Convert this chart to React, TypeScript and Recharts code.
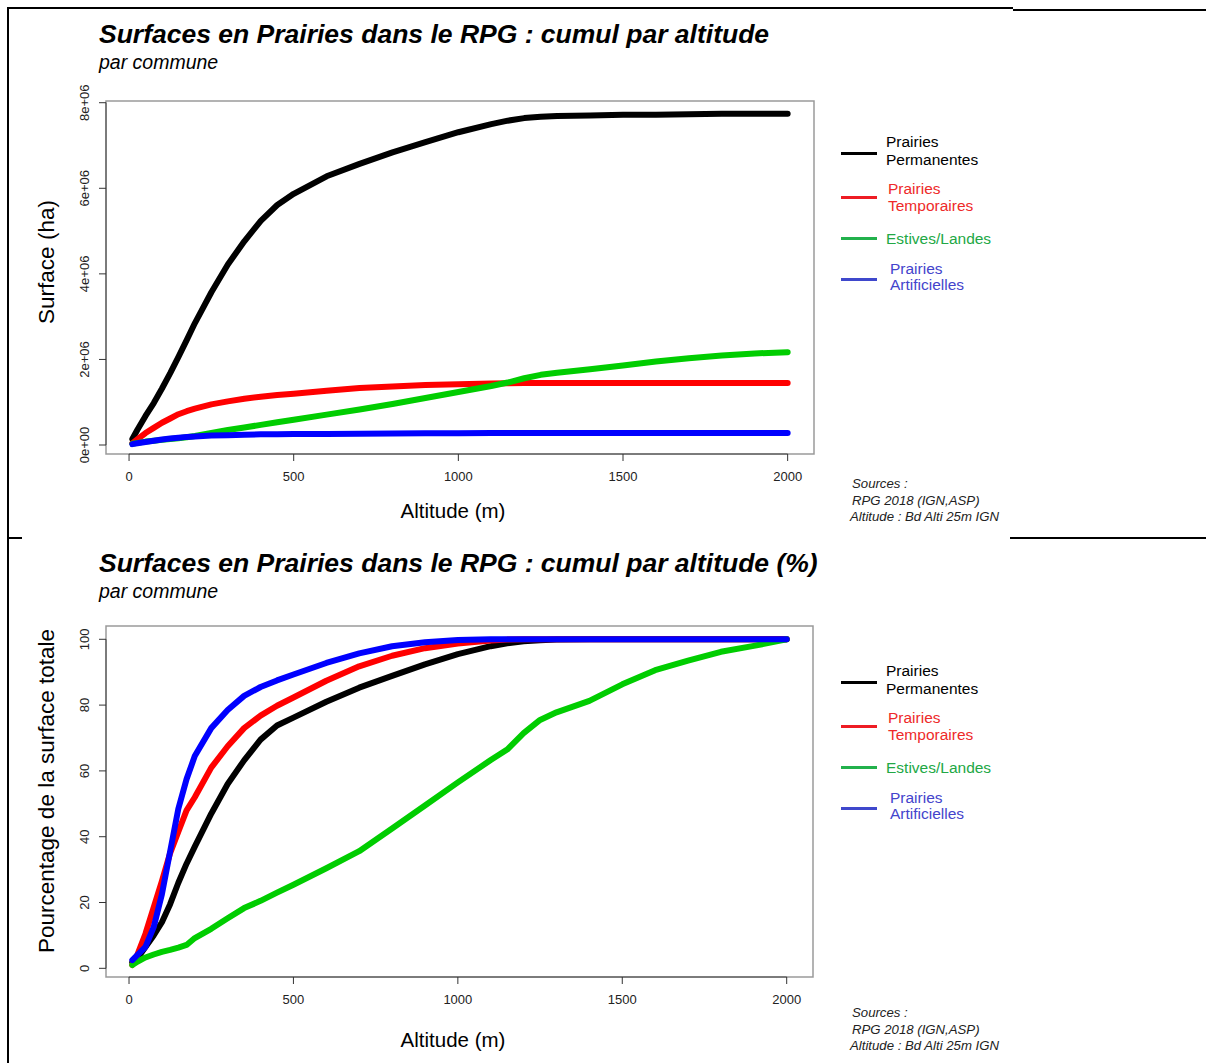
import React from "react";
import { LineChart, Line, XAxis, YAxis, ReferenceArea, ReferenceLine } from "recharts";

const FONT = '"Liberation Sans", Arial, Helvetica, sans-serif';

// altitude (m) of each cumulative point
const ALTITUDES = [10, 25, 50, 75, 100, 125, 150, 175, 200, 250, 300, 350, 400, 450, 500, 600, 700, 800, 900, 1000, 1100, 1150, 1200, 1250, 1300, 1400, 1500, 1600, 1700, 1800, 1900, 2000];

// cumulative surface (ha)
const SURF_PERMANENTES = [140000, 350000, 680000, 980000, 1320000, 1680000, 2060000, 2450000, 2850000, 3570000, 4220000, 4760000, 5240000, 5610000, 5870000, 6280000, 6570000, 6840000, 7080000, 7310000, 7500000, 7580000, 7640000, 7670000, 7690000, 7700000, 7720000, 7720000, 7730000, 7740000, 7740000, 7740000];
const SURF_TEMPORAIRES = [40000, 130000, 280000, 400000, 520000, 620000, 720000, 790000, 850000, 950000, 1020000, 1080000, 1130000, 1170000, 1200000, 1270000, 1330000, 1370000, 1400000, 1420000, 1440000, 1445000, 1450000, 1450000, 1450000, 1450000, 1450000, 1450000, 1450000, 1450000, 1450000, 1450000];
const SURF_ESTIVES = [30000, 50000, 80000, 100000, 120000, 140000, 160000, 180000, 210000, 280000, 350000, 410000, 470000, 530000, 590000, 710000, 830000, 960000, 1100000, 1240000, 1380000, 1460000, 1560000, 1640000, 1690000, 1770000, 1860000, 1950000, 2030000, 2090000, 2140000, 2170000];
const SURF_ARTIFICIELLES = [20000, 40000, 70000, 100000, 130000, 150000, 170000, 190000, 200000, 220000, 230000, 240000, 250000, 252000, 255000, 260000, 265000, 270000, 273000, 276000, 280000, 280000, 280000, 280000, 280000, 280000, 280000, 280000, 280000, 280000, 280000, 280000];

// cumulative share of total surface (%)
const PCT_PERMANENTES = [1.8, 3, 6.5, 10, 14, 19.5, 26, 31.8, 37, 47, 56, 63.2, 69.5, 73.8, 76.2, 81, 85.3, 88.9, 92.4, 95.5, 97.9, 98.8, 99.4, 99.7, 99.9, 100, 100, 100, 100, 100, 100, 100];
const PCT_TEMPORAIRES = [1, 4, 10.5, 18.5, 26.5, 35, 41.5, 48, 52, 61, 67.5, 73, 76.8, 79.8, 82.3, 87.4, 91.8, 95, 97.3, 98.7, 99.6, 99.9, 100, 100, 100, 100, 100, 100, 100, 100, 100, 100];
const PCT_ESTIVES = [1, 2, 3.3, 4.2, 5, 5.6, 6.3, 7.1, 9.2, 12, 15.2, 18.3, 20.5, 23, 25.4, 30.4, 35.6, 42.5, 49.5, 56.5, 63.3, 66.5, 71.5, 75.5, 77.8, 81.3, 86.3, 90.6, 93.5, 96.2, 98, 100];
const PCT_ARTIFICIELLES = [2.5, 4, 6.5, 12.5, 22.5, 35.5, 48.5, 57.5, 64.5, 73, 78.5, 82.8, 85.5, 87.5, 89.3, 92.8, 95.7, 97.9, 99.1, 99.8, 100, 100, 100, 100, 100, 100, 100, 100, 100, 100, 100, 100];

const ALT_TICKS = [0, 500, 1000, 1500, 2000];
const SURF_TICKS = [0, 2000000, 4000000, 6000000, 8000000];
const SURF_TICK_LABELS = ["0e+00", "2e+06", "4e+06", "6e+06", "8e+06"];
const PCT_TICKS = [0, 20, 40, 60, 80, 100];
const PCT_TICK_LABELS = ["0", "20", "40", "60", "80", "100"];

const SERIES = [
  { key: "perm", label: ["Prairies", "Permanentes"], color: "#000000", legendLine: "#000000", legendText: "#000000" },
  { key: "temp", label: ["Prairies", "Temporaires"], color: "#ff0000", legendLine: "#ee1c24", legendText: "#ee2a2a" },
  { key: "estives", label: ["Estives/Landes"], color: "#00cd00", legendLine: "#22b14c", legendText: "#22a845" },
  { key: "artif", label: ["Prairies", "Artificielles"], color: "#0000ff", legendLine: "#3f48cc", legendText: "#4444cc" },
];

const surfaceData = ALTITUDES.map((alt, i) => ({
  alt,
  perm: SURF_PERMANENTES[i],
  temp: SURF_TEMPORAIRES[i],
  estives: SURF_ESTIVES[i],
  artif: SURF_ARTIFICIELLES[i],
}));

const pctData = ALTITUDES.map((alt, i) => ({
  alt,
  perm: PCT_PERMANENTES[i],
  temp: PCT_TEMPORAIRES[i],
  estives: PCT_ESTIVES[i],
  artif: PCT_ARTIFICIELLES[i],
}));

// legend rows, relative to the panel's top
const LEGEND_ROWS = [
  { lineY: 153.5, textX: 886, textY: [141.5, 159.5] },
  { lineY: 197.5, textX: 888, textY: [188.5, 206] },
  { lineY: 238.5, textX: 886, textY: [238.5] },
  { lineY: 279.5, textX: 890, textY: [269, 284.5] },
];

const X_DOMAIN = [-70, 2080];

function Txt({ x, y, size, children, color = "#000", style = {} }: any) {
  return (
    <div
      style={{
        position: "absolute",
        left: x,
        top: y - size * 0.5,
        fontSize: size,
        lineHeight: 1,
        fontFamily: FONT,
        color,
        whiteSpace: "nowrap",
        ...style,
      }}
    >
      {children}
    </div>
  );
}

function YTick(props: any) {
  const { x, y, payload, ticks, labels } = props;
  const idx = ticks.indexOf(payload.value);
  return (
    <text x={x} y={y} transform={`rotate(-90, ${x}, ${y})`} textAnchor="middle" fontSize={13} fill="#222" fontFamily={FONT}>
      {labels[idx]}
    </text>
  );
}

function Panel({ top, chartTop, plotBottom, title, yLabel, data, yDomain, yTicks, yTickLabels, plotRight }: any) {
  const chartH = 540;
  const xAxisH = 40;
  const yAxisW = 50;
  return (
    <>
      <Txt x={99} y={top + 34} size={26.5} style={{ fontWeight: "bold", fontStyle: "italic" }}>
        {title}
      </Txt>
      <Txt x={99} y={top + 63} size={19.5} style={{ fontStyle: "italic" }}>
        par commune
      </Txt>
      <div
        style={{
          position: "absolute",
          left: 47,
          top: top + 262,
          transform: "translate(-50%, -50%) rotate(-90deg)",
          fontSize: 22.5,
          fontFamily: FONT,
          whiteSpace: "nowrap",
          lineHeight: 1,
        }}
      >
        {yLabel}
      </div>
      <div
        style={{
          position: "absolute",
          left: 453,
          top: top + 511,
          transform: "translate(-50%, -50%)",
          fontSize: 20.5,
          fontFamily: FONT,
          whiteSpace: "nowrap",
          lineHeight: 1,
        }}
      >
        Altitude (m)
      </div>

      <div style={{ position: "absolute", left: 0, top: chartTop }}>
        <LineChart
          width={1206}
          height={chartH}
          data={data}
          margin={{ top: 101, right: 1206 - plotRight, bottom: chartH - (plotBottom - chartTop) - xAxisH, left: 106 - yAxisW }}
        >
          <XAxis
            dataKey="alt"
            type="number"
            domain={X_DOMAIN}
            ticks={ALT_TICKS}
            allowDataOverflow
            axisLine={false}
            tickLine={{ stroke: "#333" }}
            tickSize={7}
            tickMargin={11}
            height={xAxisH}
            tick={{ fontSize: 13, fill: "#222", fontFamily: FONT }}
          />
          <YAxis
            type="number"
            domain={yDomain}
            ticks={yTicks}
            allowDataOverflow
            axisLine={false}
            tickLine={{ stroke: "#333" }}
            tickSize={7}
            tickMargin={10}
            width={yAxisW}
            tick={(p: any) => <YTick {...p} ticks={yTicks} labels={yTickLabels} />}
          />
          <ReferenceArea
            x1={X_DOMAIN[0]}
            x2={X_DOMAIN[1]}
            y1={yDomain[0]}
            y2={yDomain[1]}
            fill="none"
            stroke="#9a9a9a"
            strokeWidth={1.5}
            ifOverflow="visible"
          />
          <ReferenceLine
            segment={[
              { x: ALT_TICKS[0], y: yDomain[0] },
              { x: ALT_TICKS[ALT_TICKS.length - 1], y: yDomain[0] },
            ]}
            stroke="#444"
            strokeWidth={1}
            ifOverflow="visible"
          />
          <ReferenceLine
            segment={[
              { x: X_DOMAIN[0], y: yTicks[0] },
              { x: X_DOMAIN[0], y: yTicks[yTicks.length - 1] },
            ]}
            stroke="#444"
            strokeWidth={1}
            ifOverflow="visible"
          />
          {SERIES.map((s) => (
            <Line
              key={s.key}
              dataKey={s.key}
              type="linear"
              stroke={s.color}
              strokeWidth={6}
              strokeLinecap="round"
              strokeLinejoin="round"
              dot={false}
              activeDot={false}
              isAnimationActive={false}
            />
          ))}
        </LineChart>
      </div>

      {SERIES.map((s, i) => {
        const row = LEGEND_ROWS[i];
        return (
          <React.Fragment key={s.key}>
            <div
              style={{
                position: "absolute",
                left: 841,
                top: top + row.lineY - 1.25,
                width: 36,
                height: 2.5,
                background: s.legendLine,
              }}
            />
            {s.label.map((t, j) => (
              <Txt key={t} x={row.textX} y={top + row.textY[j]} size={15.5} color={s.legendText}>
                {t}
              </Txt>
            ))}
          </React.Fragment>
        );
      })}

      <Txt x={852} y={top + 484} size={13.2} color="#222" style={{ fontStyle: "italic" }}>
        Sources :
      </Txt>
      <Txt x={852} y={top + 501} size={13.2} color="#222" style={{ fontStyle: "italic" }}>
        RPG 2018 (IGN,ASP)
      </Txt>
      <Txt x={850} y={top + 517} size={13.2} color="#222" style={{ fontStyle: "italic" }}>
        Altitude : Bd Alti 25m IGN
      </Txt>
    </>
  );
}

export default function App() {
  return (
    <div style={{ position: "absolute", left: 0, top: 0, width: 1206, height: 1063, background: "#fff", overflow: "hidden" }}>
      {/* page frame */}
      <div style={{ position: "absolute", left: 7, top: 7, width: 1006, height: 2, background: "#000" }} />
      <div style={{ position: "absolute", left: 1013, top: 9, width: 193, height: 2, background: "#000" }} />
      <div style={{ position: "absolute", left: 7, top: 7, width: 2, height: 1056, background: "#000" }} />
      <div style={{ position: "absolute", left: 7, top: 537, width: 15, height: 2, background: "#000" }} />
      <div style={{ position: "absolute", left: 1010, top: 537, width: 196, height: 2, background: "#000" }} />

      <Panel
        top={0}
        chartTop={0}
        plotBottom={454}
        plotRight={814}
        title="Surfaces en Prairies dans le RPG : cumul par altitude"
        yLabel="Surface (ha)"
        data={surfaceData}
        yDomain={[-210000, 8040000]}
        yTicks={SURF_TICKS}
        yTickLabels={SURF_TICK_LABELS}
      />
      <Panel
        top={529}
        chartTop={525}
        plotBottom={977}
        plotRight={813}
        title="Surfaces en Prairies dans le RPG : cumul par altitude (%)"
        yLabel="Pourcentage de la surface totale"
        data={pctData}
        yDomain={[-2.64, 104.04]}
        yTicks={PCT_TICKS}
        yTickLabels={PCT_TICK_LABELS}
      />
    </div>
  );
}
